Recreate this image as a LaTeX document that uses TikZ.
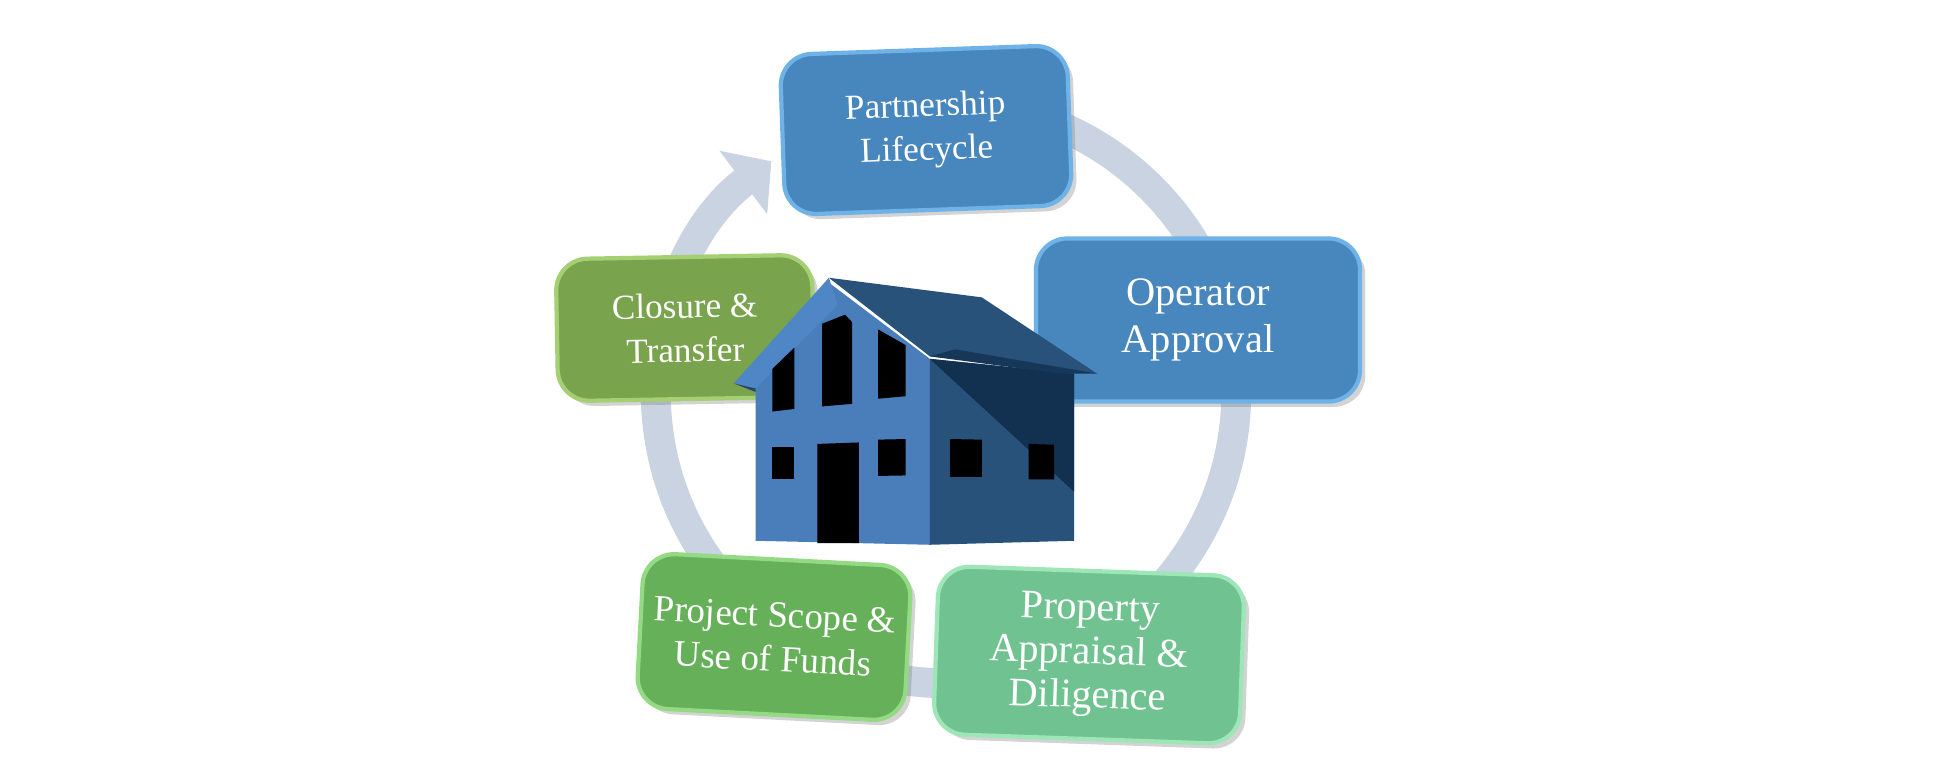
\documentclass[tikz,border=0pt]{standalone}
\usepackage{fontspec}
\setmainfont{Liberation Serif}
\usetikzlibrary{arrows.meta,shadows}
\definecolor{ringc}{HTML}{CAD3E1}
\definecolor{blueb}{HTML}{4787BD}
\definecolor{blueedge}{HTML}{6FB2E8}
\definecolor{propc}{HTML}{70C391}
\definecolor{propedge}{HTML}{9EE6B8}
\definecolor{projc}{HTML}{66B05A}
\definecolor{projedge}{HTML}{94DA84}
\definecolor{closc}{HTML}{7AA34E}
\definecolor{closedge}{HTML}{A5CF73}
\definecolor{houseL}{HTML}{4A7EBB}
\definecolor{houseR}{HTML}{28527A}
\definecolor{houseD}{HTML}{12304F}
\definecolor{roofL}{HTML}{4F86C6}
\tikzset{
  stepbox/.style={rounded corners=9pt, draw, line width=1.2pt, text=white, align=center,
    drop shadow={shadow xshift=1.5pt,shadow yshift=-1.5pt,opacity=0.35}},
  win/.style={fill=black},
}
\begin{document}
\begin{tikzpicture}[x=0.01cm,y=-0.01cm]
\useasboundingbox (0,0) rectangle (1938,772);
\coordinate (ctr) at (946,393);
% ring
\draw[ringc, line width=8.5pt, -{Triangle[length=10pt,width=22pt]}]
  ([shift={(100:2.9cm)}]ctr) arc[start angle=100, end angle=-233, radius=2.9cm];
% boxes
\node[stepbox, fill=blueb, draw=blueedge, minimum width=2.87cm, minimum height=1.6cm, rotate=2, font=\fontsize{10}{12.5}\selectfont] (p1) at (926,130) {Partnership\\Lifecycle};
\node[stepbox, fill=blueb, draw=blueedge, minimum width=3.24cm, minimum height=1.63cm, font=\fontsize{11.5}{13.5}\selectfont] (p2) at (1198,320) {Operator\\Approval};
\node[stepbox, fill=propc, draw=propedge, minimum width=3.06cm, minimum height=1.68cm, rotate=-2, font=\fontsize{11.5}{12.5}\selectfont] (p3) at (1089,655) {Property\\Appraisal \&\\Diligence};
\node[stepbox, fill=projc, draw=projedge, minimum width=2.68cm, minimum height=1.55cm, rotate=-3, font=\fontsize{10.5}{12.5}\selectfont] (p4) at (774,637) {Project Scope \&\\Use of Funds};
\node[stepbox, fill=closc, draw=closedge, minimum width=2.56cm, minimum height=1.42cm, rotate=1, font=\fontsize{10}{12.5}\selectfont] (p5) at (685,328) {Closure \&\\Transfer};
% house
\begin{scope}[yscale=0.852]
\fill[houseL] (755.6,634.7) -- (755.6,455.9) -- (828.9,331.8) -- (929.9,421.2) -- (929.9,639.4) -- cycle;
\fill[houseR] (929.9,421.2) -- (1074,438.5) -- (1074,634.7) -- (929.9,639.4) -- cycle;
\fill[houseD] (929.9,421.2) -- (1074,438.5) -- (1074,577) -- cycle;
\fill[houseR] (828.9,326) -- (981.8,349) -- (1097,438.5) -- (929.9,418.3) -- cycle;
\fill[houseD!80!houseR] (929.9,418.3) -- (955,410) -- (1097,438.5) -- (1060,438.5) -- cycle;
\fill[roofL] (733.7,450) -- (828.9,326) -- (837.6,357.8) -- (755.6,455.9) -- cycle;
\fill[houseD!70!houseL] (733.7,450) -- (755.6,455.9) -- (755.6,460) -- cycle;
\fill[win] (772.4,433) -- (794.3,408) -- (794.3,480) -- (772.4,483) -- cycle;
\fill[win] (822,380) -- (845,369.3) -- (852,378) -- (852,474) -- (822,477) -- cycle;
\fill[win] (878,386.6) -- (905.6,405) -- (905.6,465) -- (878,468) -- cycle;
\fill[win] (772.4,525) rectangle (794.3,562.6);
\fill[win] (817.4,521) -- (858.9,519.3) -- (858.9,637.6) -- (817.4,637.6) -- cycle;
\fill[win] (878,516) -- (905.6,515.3) -- (905.6,558) -- (878,558.6) -- cycle;
\fill[win] (950,515.3) -- (981.8,516) -- (981.8,559.7) -- (950,559.7) -- cycle;
\fill[win] (1028.6,521) -- (1054,522) -- (1054,562.6) -- (1028.6,562.6) -- cycle;
\end{scope}
\end{tikzpicture}
\end{document}
